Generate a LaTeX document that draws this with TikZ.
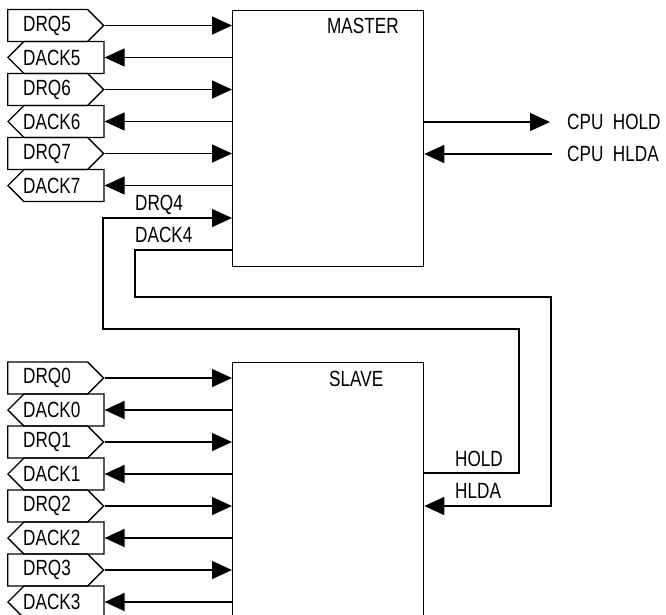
\documentclass[tikz,border=0pt]{standalone}
\usepackage{fontspec}
\setmainfont{Liberation Sans}[FakeStretch=0.78]
\usetikzlibrary{arrows.meta,positioning,shapes.symbols}

\tikzset{
  chip/.style={draw, line width=1.3pt, anchor=north west, minimum width=191pt, inner sep=0pt},
  tag/.style={signal, draw, line width=1.3pt, inner xsep=40pt, inner ysep=16pt, anchor=west},
  drq/.style={tag, signal to=east},
  dack/.style={tag, signal to=west},
  tagtxt/.style={inner sep=0pt, anchor=west, xshift=16pt},
  txt/.style={inner sep=0pt, anchor=base west},
  wire/.style={line width=1.3pt},
  sig/.style={wire, -{Triangle[length=20pt,width=18pt]}}
}

\begin{document}
\begin{tikzpicture}[x=1pt, y=-1pt, font=\fontsize{22}{26}\selectfont]
  \useasboundingbox (0,0) rectangle (666,615);

  % the two controllers
  \node[chip, minimum height=256pt] (master) at (232,10) {};
  \node[chip, minimum height=300pt] (slave) at (232,361.5) {};
  \node[txt] (mastertxt) at (327,34) {MASTER};
  \node[txt] (slavetxt) at (329,386) {SLAVE};

  % master channels 5-7
  \foreach \n [count=\i from 0] in {5,6,7} {
    \node[drq, label={[tagtxt]west:DRQ\n}] (q\n) at (7,{25.5+64*\i}) {};
    \node[dack, label={[tagtxt]west:DACK\n}] (a\n) at (7,{57.5+64*\i}) {};
    \draw[sig] (q\n.east) -- (q\n.east -| master.west);
    \draw[sig] (a\n.east -| master.west) -- (a\n.east);
  }

  % slave channels 0-3
  \foreach \n in {0,...,3} {
    \node[drq, label={[tagtxt]west:DRQ\n}] (q\n) at (7,{378+64*\n}) {};
    \node[dack, label={[tagtxt]west:DACK\n}] (a\n) at (7,{410+64*\n}) {};
    \draw[sig] (q\n.east) -- (q\n.east -| master.west);
    \draw[sig] (a\n.east -| master.west) -- (a\n.east);
  }

  % cascade: slave hold/hlda on master channel 4
  \node[txt] (drq4) at (135,210) {DRQ4};
  \node[txt] (dack4) at (135,242) {DACK4};
  \node[txt] (hold) at (455,466) {HOLD};
  \node[txt] (hlda) at (455,498) {HLDA};
  \draw[sig] (slave.east |- 0,473) -| (519,329) -| (103,218) -- (master.west |- 0,218);
  \draw[sig] (master.west |- 0,250) -| (135,297) -| (551,506) -- (slave.east |- 0,506);

  % cpu side
  \node[inner sep=0pt, anchor=west] (cpuhold) at (567,122) {CPU~~HOLD};
  \node[inner sep=0pt, anchor=west] (cpuhlda) at (567,154) {CPU~~HLDA};
  \draw[sig] (master.east |- cpuhold) -- ([xshift=-17pt]cpuhold.west);
  \draw[sig] ([xshift=-15pt]cpuhlda.west) -- (master.east |- cpuhlda);
\end{tikzpicture}
\end{document}
